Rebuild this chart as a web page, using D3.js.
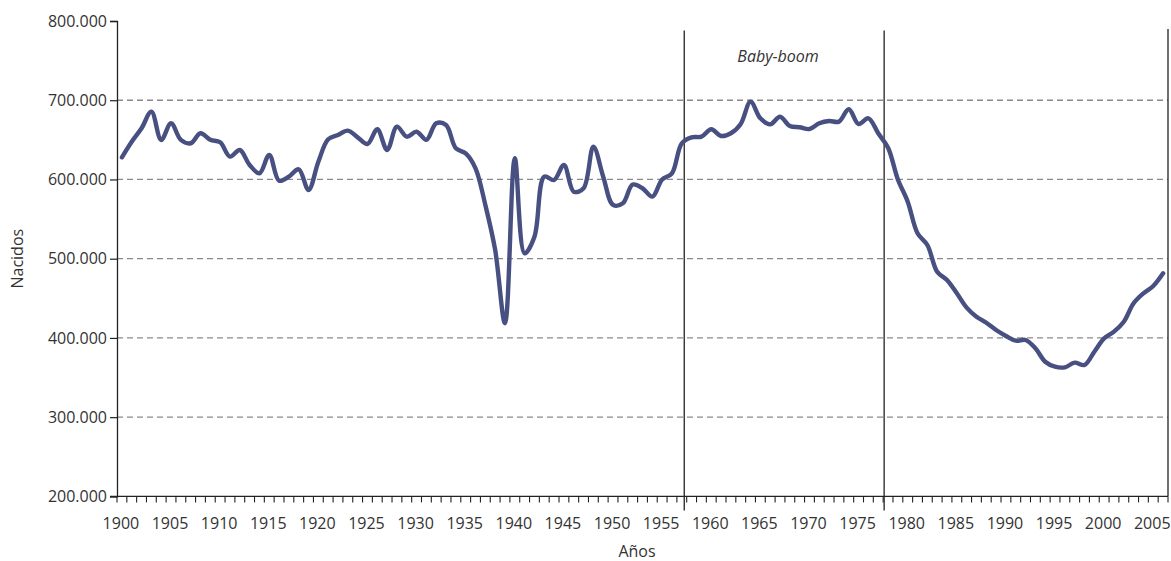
<!DOCTYPE html>
<html>
<head>
<meta charset="utf-8">
<script src="https://cdn.jsdelivr.net/npm/d3@7"></script>
<style>
  body { margin: 0; background: #fff; }
  text { font-family: "Open Sans", sans-serif; fill: #333; }
</style>
</head>
<body>
<div id="chart"></div>
<script>
// Nacidos en España por año (lectura aproximada del gráfico)
const years = d3.range(1900, 2007);
const births = [
  628000, 647700, 664600, 685600, 649800, 670900, 650000, 645700, 658300, 650000,
  646900, 628800, 637200, 618300, 607800, 630900, 598500, 603500, 612800, 586700,
  622400, 650700, 656100, 661600, 653200, 644800, 663300, 637200, 666600, 654000,
  660300, 650000, 670900, 668800, 639300, 633000, 614100, 567800, 511000, 418500,
  626700, 506800, 527800, 603500, 599300, 618300, 584600, 588900, 641400, 603500,
  567800, 569900, 593600, 588900, 578300, 600000, 607800, 645700, 653200, 654000,
  663300, 654900, 658300, 670000, 698200, 677200, 669600, 679200, 667500, 665900,
  663700, 670900, 673800, 673000, 688600, 670000, 677200, 658300, 640000, 600000,
  572000, 532100, 517300, 483600, 473100, 456300, 438200, 426800, 419200, 410000,
  402500, 396500, 397400, 386900, 370000, 363700, 362900, 368800, 365900, 382600,
  399500, 407900, 420500, 443700, 456300, 465600, 481600
];
const yTicks = [200000, 300000, 400000, 500000, 600000, 700000, 800000];
const gridTicks = [300000, 400000, 500000, 600000, 700000];
const labelYears = d3.range(1900, 2006, 5);
const boomBounds = [1957.25, 1977.6];
const boomLabel = "Baby-boom";
const boomLabelYear = 1966.8;

const W = 1171, H = 561;
const margin = { top: 21, right: 3, bottom: 65, left: 117 };
const fontSize = "16px";

const svg = d3.select("#chart").append("svg")
  .attr("width", W)
  .attr("height", H);

const x = d3.scaleBand()
  .domain(years)
  .range([margin.left, W - margin.right]);

// continuous version of the x scale (years -> px), for the baby-boom markers
const xYear = d3.scaleLinear()
  .domain([1899.5, 2006.5])
  .range([margin.left, W - margin.right]);

const y = d3.scaleLinear()
  .domain([200000, 800000])
  .range([H - margin.bottom + 0.4, margin.top]);

const fmt = v => d3.format(",")(v).replace(/,/g, ".");

// gridlines
svg.append("g")
  .selectAll("line")
  .data(gridTicks)
  .enter().append("line")
  .attr("x1", margin.left)
  .attr("x2", W - margin.right)
  .attr("y1", d => y(d))
  .attr("y2", d => y(d))
  .attr("stroke", "#8a8a8a")
  .attr("stroke-width", 1.3)
  .attr("stroke-dasharray", "6,4");

// y axis
const yAxis = svg.append("g")
  .attr("transform", `translate(${margin.left},0)`)
  .call(d3.axisLeft(y).tickValues(yTicks).tickSize(7).tickPadding(3).tickFormat(fmt));
yAxis.select(".domain").attr("stroke", "#222").attr("stroke-width", 1.3);
yAxis.selectAll(".tick line").attr("stroke", "#222").attr("stroke-width", 1.2);
yAxis.selectAll(".tick text")
  .style("font-family", "'Open Sans', sans-serif")
  .style("font-size", fontSize)
  .attr("fill", "#333");

// x axis: tick at every year boundary, labels every five years
const xAxisY = y(200000);
const xg = svg.append("g");
xg.append("line")
  .attr("x1", margin.left - 7)
  .attr("x2", W - margin.right)
  .attr("y1", xAxisY)
  .attr("y2", xAxisY)
  .attr("stroke", "#222")
  .attr("stroke-width", 1.3);

const bounds = years.map(d => x(d)).concat([x(2006) + x.bandwidth()]);
xg.selectAll("line.tick")
  .data(bounds)
  .enter().append("line")
  .attr("class", "tick")
  .attr("x1", d => d)
  .attr("x2", d => d)
  .attr("y1", xAxisY)
  .attr("y2", xAxisY + 6)
  .attr("stroke", "#222")
  .attr("stroke-width", 1.1);

xg.selectAll("text")
  .data(labelYears)
  .enter().append("text")
  .attr("x", d => x(d) + x.bandwidth() / 2 - 1)
  .attr("y", xAxisY + 33)
  .attr("text-anchor", "middle")
  .style("font-size", fontSize)
  .text(d => d);

// right border
svg.append("line")
  .attr("x1", W - margin.right)
  .attr("x2", W - margin.right)
  .attr("y1", y(790000))
  .attr("y2", xAxisY)
  .attr("stroke", "#222")
  .attr("stroke-width", 1.3);

// baby-boom markers
svg.append("g")
  .selectAll("line")
  .data(boomBounds)
  .enter().append("line")
  .attr("x1", d => xYear(d))
  .attr("x2", d => xYear(d))
  .attr("y1", y(788000))
  .attr("y2", xAxisY + 14)
  .attr("stroke", "#222")
  .attr("stroke-width", 1.3);

svg.append("text")
  .attr("x", xYear(boomLabelYear))
  .attr("y", y(750000) + 1)
  .attr("text-anchor", "middle")
  .style("font-size", fontSize)
  .style("font-style", "italic")
  .text(boomLabel);

// line
const line = d3.line()
  .x((d, i) => x(years[i]) + x.bandwidth() / 2)
  .y(d => y(d))
  .curve(d3.curveCatmullRom.alpha(0.5));

svg.append("path")
  .datum(births)
  .attr("d", line)
  .attr("fill", "none")
  .attr("stroke", "#475080")
  .attr("stroke-width", 4.4)
  .attr("stroke-linejoin", "round")
  .attr("stroke-linecap", "round");

// axis titles
svg.append("text")
  .attr("transform", `translate(23,${(margin.top + xAxisY) / 2}) rotate(-90)`)
  .attr("text-anchor", "middle")
  .style("font-size", fontSize)
  .text("Nacidos");

svg.append("text")
  .attr("x", 637)
  .attr("y", 557)
  .attr("text-anchor", "middle")
  .style("font-size", fontSize)
  .text("Años");
</script>
</body>
</html>
